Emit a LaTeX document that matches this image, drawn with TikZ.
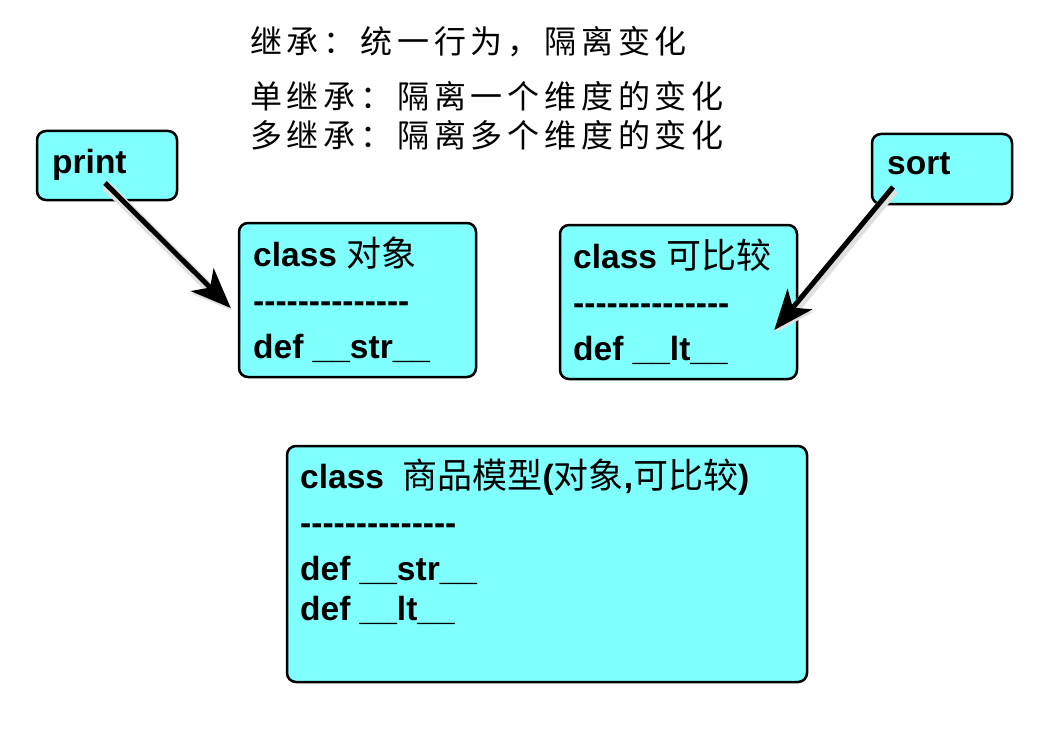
\documentclass[tikz,border=0pt]{standalone}
\usepackage{fontspec}
\setmainfont{Liberation Sans}
\newfontfamily\cjk{Noto Sans CJK SC}
\newfontfamily\cjktop{Noto Sans CJK SC}[LetterSpace=15]
\usetikzlibrary{arrows.meta,positioning}
\definecolor{boxcyan}{HTML}{80FFFF}
\newcommand{\zh}[1]{{\cjk\mdseries\fontsize{35}{46}\selectfont #1}}
\newcommand{\dashline}{-{}-{}-{}-{}-{}-{}-{}-{}-{}-{}-{}-{}-{}-}

\begin{document}
\begin{tikzpicture}[x=1pt,y=-1pt,
	cls/.style={draw=black, line width=2.5pt, rounded corners=9pt, fill=boxcyan, inner sep=0pt},
	txt/.style={anchor=base west, inner sep=0pt, align=left, font=\bfseries\fontsize{33.5}{46}\selectfont},
	note/.style={anchor=base west, inner sep=0pt, align=left, font=\cjktop\fontsize{32}{39}\selectfont},
	pointer/.style={line width=5pt, -{Stealth[length=40pt,width=32pt,inset=11pt]},
		preaction={draw=black!12, line width=10pt, transform canvas={shift={(1pt,-2.5pt)}}}}]
\fill[white](0,0)rectangle(1051,730);
\useasboundingbox(0,0)rectangle(1051,730);
% notes on top
\node[note](motto)at(250,54){继承：统一行为，隔离变化};
\node[note](single)at(250,109){单继承：隔离一个维度的变化};
\node[note](multi)at(250,148){多继承：隔离多个维度的变化};
% classes
\node[cls, minimum width=140, minimum height=69](print)at(107,165.5){};
\node[cls, minimum width=140, minimum height=70](sort)at(942,169){};
\node[cls, minimum width=237, minimum height=154](obj)at(357.5,300){};
\node[cls, minimum width=237, minimum height=154](cmp)at(678.5,302){};
\node[cls, minimum width=520, minimum height=236](model)at(547,564){};
\node[txt](printtxt)at(52,174){print};
\node[txt](sorttxt)at(887,175){sort};
% last line sits on the given point
\node[txt](objtxt)at(253,358){class \zh{对象}\\\dashline\\def \_\_str\_\_};
\node[txt](cmptxt)at(573,360){class \zh{可比较}\\\dashline\\def \_\_lt\_\_};
\node[txt](modeltxt)at(300,620){class\ \ \zh{商品模型}(\zh{对象},\zh{可比较})\\\dashline\\def \_\_str\_\_\\[-6pt]def \_\_lt\_\_};
% calls
\draw[pointer]([shift={(-2,17.5)}]print.center)--([shift={(-7,8)}]obj.west);
\draw[pointer]([shift={(-49,18)}]sort.center)--([shift={(-24,28)}]cmp.east);
\end{tikzpicture}
\end{document}
